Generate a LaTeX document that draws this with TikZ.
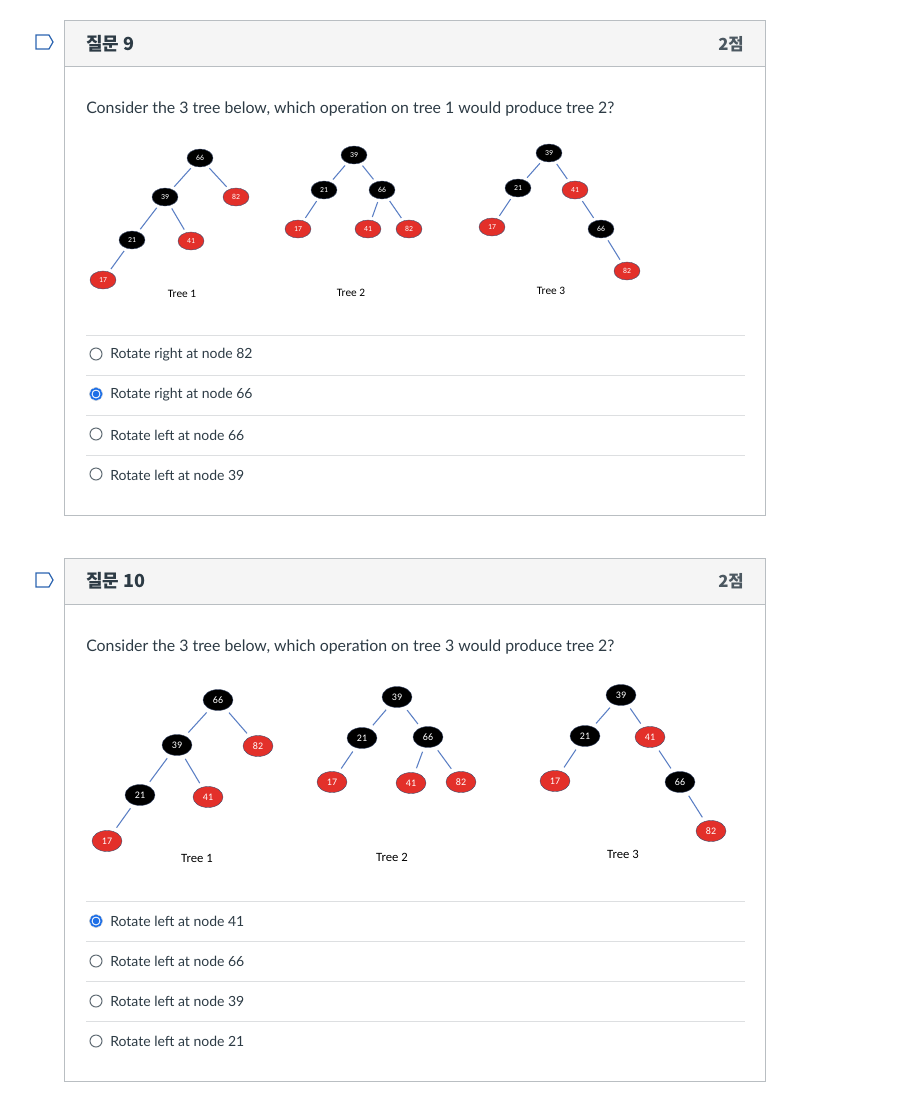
\documentclass[tikz,border=0pt]{standalone}
\usepackage{fontspec}
\setmainfont{Lato}
\newfontfamily\kofont{Noto Sans CJK KR}
\newfontfamily\trfont{Carlito}
\usetikzlibrary{shapes.geometric}
\definecolor{txt}{HTML}{2D3B45}
\definecolor{hdr}{HTML}{F5F5F5}
\definecolor{bord}{HTML}{B9BEC2}
\definecolor{sepgray}{HTML}{DDDFE1}
\definecolor{edgeblue}{HTML}{5B7FC4}
\definecolor{nodered}{HTML}{E3302A}
\definecolor{nodeline}{HTML}{3F4E6E}
\definecolor{radioblue}{HTML}{1E6FE6}
\definecolor{flagblue}{HTML}{2B64B0}

\tikzset{
  tnode/.style={ellipse, inner sep=0pt, draw=nodeline, line width=0.3pt, text=white},
  bk/.style={tnode, fill=black},
  rd/.style={tnode, fill=nodered},
  sm/.style={minimum width=19.5pt, minimum height=13.5pt, font=\trfont\fontsize{5.8}{5.8}\selectfont},
  lg/.style={minimum width=22.5pt, minimum height=15.75pt, font=\trfont\fontsize{7.5}{7.5}\selectfont},
  ln/.style={edgeblue, line width=0.8pt, shorten <=#1, shorten >=#1},
  ttl/.style={anchor=west, inner sep=0pt, text=txt, font=\kofont\bfseries\fontsize{13.5}{13.5}\selectfont},
  pts/.style={anchor=east, inner sep=0pt, text=txt!85, font=\kofont\bfseries\fontsize{12.5}{12.5}\selectfont},
  qtxt/.style={anchor=west, inner sep=0pt, text=txt, font=\fontsize{11.9}{11.9}\selectfont},
  otxt/.style={anchor=west, inner sep=0pt, text=txt, font=\fontsize{10.5}{10.5}\selectfont},
  radio/.style={draw=txt!75, line width=0.75pt},
}

\begin{document}
\begin{tikzpicture}[x=0.75pt, y=-0.75pt]
\useasboundingbox (0,0) rectangle (898,1104);

% question 9
\fill[hdr] (64,20) rectangle (765,66);
\draw[bord] (64,20) rectangle (765,515);
\draw[bord] (64,66) -- (765,66);
\draw[flagblue, line width=0.9pt] (36,35) -- (49,35) -- (53,42) -- (49,49) -- (36,49) -- cycle;
\node[ttl] (h9) at (86,44) {질문 9};
\node[pts] (p9) at (744,44) {2점};
\node[qtxt] (q9) at (86,109) {Consider the 3 tree below, which operation on tree 1 would produce tree 2?};

% tree 1
\node[bk, sm] (a66) at (200,158) {66};
\node[bk, sm] (a39) at (165,197) {39};
\node[rd, sm] (a82) at (236,197) {82};
\node[bk, sm] (a21) at (132,240) {21};
\node[rd, sm] (a41) at (191,241) {41};
\node[rd, sm] (a17) at (103,280) {17};
\node[font=\trfont\fontsize{8.5}{8.5}\selectfont] (al) at (182,294) {Tree 1};
% tree 2
\node[bk, sm] (b39) at (354,155) {39};
\node[bk, sm] (b21) at (324,190) {21};
\node[bk, sm] (b66) at (382,190) {66};
\node[rd, sm] (b17) at (298,229) {17};
\node[rd, sm] (b41) at (368,229) {41};
\node[rd, sm] (b82) at (409,229) {82};
\node[font=\trfont\fontsize{8.5}{8.5}\selectfont] (bl) at (351,293) {Tree 2};
% tree 3
\node[bk, sm] (c39) at (549,153) {39};
\node[bk, sm] (c21) at (518,188) {21};
\node[rd, sm] (c41) at (575,190) {41};
\node[rd, sm] (c17) at (492,227) {17};
\node[bk, sm] (c66) at (601,229) {66};
\node[rd, sm] (c82) at (627,271) {82};
\node[font=\trfont\fontsize{8.5}{8.5}\selectfont] (cl) at (551,291) {Tree 3};

\foreach \p/\c in {a66/a39, a66/a82, a39/a21, a39/a41, a21/a17,
                   b39/b21, b39/b66, b21/b17, b66/b41, b66/b82,
                   c39/c21, c39/c41, c21/c17, c41/c66, c66/c82}
  \draw[ln=2.5pt] (\p) -- (\c);

\foreach \y/\t [count=\i] in {354/Rotate right at node 82, 394/Rotate right at node 66,
                              434/Rotate left at node 66, 474/Rotate left at node 39} {
  \draw[sepgray] (86,\y-19) -- (745,\y-19);
  \draw[radio] (96,\y) circle (6);
  \node[otxt] (o9\i) at (110,\y+1) {\t};
}
\fill[white] (96,394) circle (6.5);
\draw[radioblue, line width=1.3pt] (96,394) circle (5.5);
\fill[radioblue] (96,394) circle (3.3);

% question 10
\fill[hdr] (64,558) rectangle (765,604);
\draw[bord] (64,558) rectangle (765,1081);
\draw[bord] (64,604) -- (765,604);
\draw[flagblue, line width=0.9pt] (36,573) -- (49,573) -- (53,580) -- (49,587) -- (36,587) -- cycle;
\node[ttl] (h10) at (86,581) {질문 10};
\node[pts] (p10) at (744,581) {2점};
\node[qtxt] (q10) at (86,647) {Consider the 3 tree below, which operation on tree 3 would produce tree 2?};

% tree 1
\node[bk, lg] (d66) at (218,700) {66};
\node[bk, lg] (d39) at (177,745) {39};
\node[rd, lg] (d82) at (258,746) {82};
\node[bk, lg] (d21) at (140,795) {21};
\node[rd, lg] (d41) at (208,797) {41};
\node[rd, lg] (d17) at (107,841) {17};
\node[font=\trfont\fontsize{9.5}{9.5}\selectfont] (dl) at (197,858) {Tree 1};
% tree 2
\node[bk, lg] (e39) at (397,697) {39};
\node[bk, lg] (e21) at (362,738) {21};
\node[bk, lg] (e66) at (428,737) {66};
\node[rd, lg] (e17) at (332,782) {17};
\node[rd, lg] (e41) at (411,783) {41};
\node[rd, lg] (e82) at (461,782) {82};
\node[font=\trfont\fontsize{9.5}{9.5}\selectfont] (el) at (392,857) {Tree 2};
% tree 3
\node[bk, lg] (f39) at (621,695) {39};
\node[bk, lg] (f21) at (585,736) {21};
\node[rd, lg] (f41) at (650,737) {41};
\node[rd, lg] (f17) at (555,781) {17};
\node[bk, lg] (f66) at (680,782) {66};
\node[rd, lg] (f82) at (711,831) {82};
\node[font=\trfont\fontsize{9.5}{9.5}\selectfont] (fl) at (623,854) {Tree 3};

\foreach \p/\c in {d66/d39, d66/d82, d39/d21, d39/d41, d21/d17,
                   e39/e21, e39/e66, e21/e17, e66/e41, e66/e82,
                   f39/f21, f39/f41, f21/f17, f41/f66, f66/f82}
  \draw[ln=3.5pt] (\p) -- (\c);

\foreach \y/\t [count=\i] in {921/Rotate left at node 41, 961/Rotate left at node 66,
                              1001/Rotate left at node 39, 1041/Rotate left at node 21} {
  \draw[sepgray] (86,\y-20) -- (745,\y-20);
  \draw[radio] (96,\y) circle (6);
  \node[otxt] (o10\i) at (110,\y) {\t};
}
\fill[white] (96,921) circle (6.5);
\draw[radioblue, line width=1.3pt] (96,921) circle (5.5);
\fill[radioblue] (96,921) circle (3.3);
\end{tikzpicture}
\end{document}
